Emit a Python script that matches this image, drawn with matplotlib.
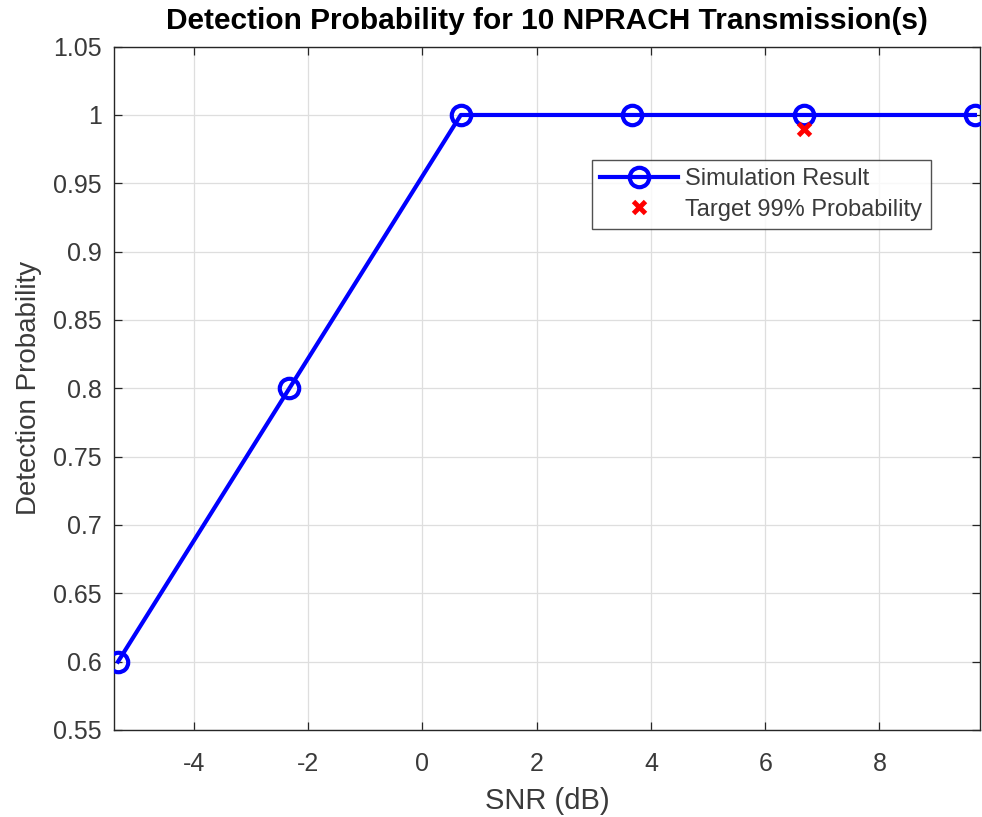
import numpy as np
import matplotlib.pyplot as plt

plt.rcParams['font.family'] = ['Liberation Sans', 'DejaVu Sans']
plt.rcParams['axes.unicode_minus'] = False

# data
snr_db = [-5.33, -2.33, 0.67, 3.67, 6.67, 9.67]
p_detect = [0.6, 0.8, 1.0, 1.0, 1.0, 1.0]
target_snr = [6.67]
target_p = [0.99]

xticks = [-4, -2, 0, 2, 4, 6, 8]
yticks = [0.55, 0.6, 0.65, 0.7, 0.75, 0.8, 0.85, 0.9, 0.95, 1.0, 1.05]
yticklabels = ['0.55', '0.6', '0.65', '0.7', '0.75', '0.8', '0.85', '0.9', '0.95', '1', '1.05']

grey = '#262626'
txt = '#3a3a3a'

fig = plt.figure(figsize=(9.82, 8.17), dpi=100)
ax = fig.add_axes([0.1161, 0.1065, 0.8819, 0.8364])

ax.plot(snr_db, p_detect, '-o', color='blue', lw=3, ms=14, mew=3,
        mfc='none', label='Simulation Result', zorder=3)
ax.plot(target_snr, target_p, 'x', color='red', ms=9, mew=3.5,
        label='Target 99% Probability', zorder=4)

ax.set_xlim(-5.4, 9.76)
ax.set_ylim(0.55, 1.05)
ax.set_xticks(xticks)
ax.set_yticks(yticks)
ax.set_yticklabels(yticklabels)
ax.tick_params(direction='in', top=True, right=True, length=6, width=0.9,
               colors=grey, labelsize=18, pad=9)
ax.tick_params(axis='x', pad=16)
for lab in ax.get_xticklabels() + ax.get_yticklabels():
    lab.set_color(txt)
for sp in ax.spines.values():
    sp.set_color(grey)
    sp.set_linewidth(1.0)
ax.grid(True, color='#dedede', lw=0.9)
ax.set_axisbelow(True)

ax.set_xlabel('SNR (dB)', fontsize=21, color=txt, labelpad=8)
ax.set_ylabel('Detection Probability', fontsize=20, color=txt, labelpad=8)
ax.set_title('Detection Probability for 10 NPRACH Transmission(s)', fontsize=21.5,
             fontweight='bold', pad=13, color='black')

leg = ax.legend(loc='upper left', bbox_to_anchor=(0.552, 0.834), fontsize=17,
                frameon=True, fancybox=False, edgecolor=grey, handlelength=3.3,
                borderpad=0.35, labelspacing=0.35, handletextpad=0.3,
                borderaxespad=0)
leg.get_frame().set_linewidth(1.0)
for t in leg.get_texts():
    t.set_color(txt)

fig.savefig('out.png', dpi=100)
